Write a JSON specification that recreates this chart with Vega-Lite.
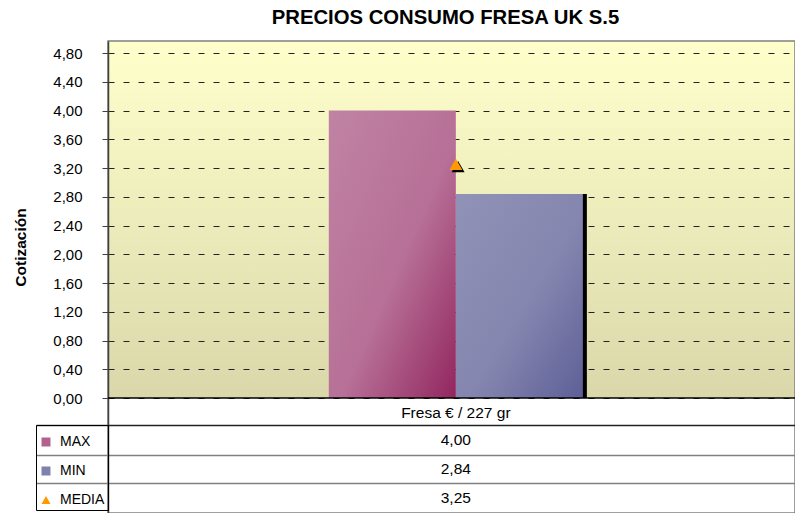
{
  "$schema": "https://vega.github.io/schema/vega-lite/v6.json",
  "width": 687,
  "height": 472,
  "autosize": {"type": "none"},
  "padding": {"left": 108, "top": 41, "right": 0, "bottom": 0},
  "background": "#ffffff",
  "config": {
    "locale": {"number": {"decimal": ",", "thousands": ".", "grouping": [3], "currency": ["", " €"]}},
    "font": "Liberation Sans"
  },
  "title": {
    "text": "PRECIOS CONSUMO FRESA  UK S.5",
    "font": "Liberation Sans",
    "fontSize": 20.3,
    "fontWeight": "bold",
    "color": "#000000",
    "anchor": "middle",
    "baseline": "alphabetic",
    "offset": -3,
    "dx": -6
  },
  "view": {
    "fill": {
      "gradient": "linear",
      "x1": 0, "y1": 0, "x2": 0, "y2": 1,
      "stops": [
        {"offset": 0, "color": "#FFFFCC"},
        {"offset": 0.756, "color": "#DAD8AA"},
        {"offset": 0.7565, "color": "#FFFFFF"},
        {"offset": 1, "color": "#FFFFFF"}
      ]
    },
    "stroke": "#808080",
    "strokeWidth": 1.5
  },
  "data": {
    "values": [
      {"producto": "Fresa €  / 227 gr", "serie": "MAX", "valor": 4.00},
      {"producto": "Fresa €  / 227 gr", "serie": "MIN", "valor": 2.84},
      {"producto": "Fresa €  / 227 gr", "serie": "MEDIA", "valor": 3.25}
    ]
  },
  "layer": [
    {
      "transform": [{"filter": "datum.serie === 'MIN'"}],
      "mark": {"type": "rule", "color": "#000000", "strokeWidth": 8},
      "encoding": {
        "x": {
          "field": "producto", "type": "nominal", "bandPosition": 1,
          "scale": {"paddingInner": 0, "paddingOuter": 0.852, "align": 0.51},
          "axis": {
            "orient": "bottom", "offset": -115, "domain": false, "ticks": false, "tickSize": 0,
            "labelPadding": 7, "labelFontSize": 15.5, "labelFont": "Liberation Sans", "labelColor": "#000000",
            "labelAngle": 0, "labelBaseline": "top", "title": null, "grid": false
          }
        },
        "y": {
          "field": "valor", "type": "quantitative",
          "scale": {"domain": [-1.6, 4.967], "nice": false, "zero": false},
          "axis": {
            "values": [-1.183, -0.793, -0.3757, 0, 0.4, 0.8, 1.2, 1.6, 2, 2.4, 2.8, 3.2, 3.6, 4, 4.4, 4.8],
            "tickCount": 40,
            "labelOverlap": false,
            "format": ".2f",
            "labelExpr": "datum.value < 0 ? '' : datum.label",
            "title": "Cotización",
            "titleFont": "Liberation Sans", "titleFontSize": 15.5, "titleFontWeight": "bold", "titleColor": "#000000",
            "titleX": -88, "titleY": 206, "titleAngle": -90, "titleBaseline": "middle", "titleAlign": "center",
            "labelFont": "Liberation Sans", "labelFontSize": 15, "labelColor": "#000000", "labelPadding": 20,
            "tickSize": {"condition": {"test": "datum.value < 0", "value": 72}, "value": 6},
            "tickColor": {"condition": {"test": "datum.value < -0.5", "value": "#808080"}, "value": "#404040"},
            "tickWidth": {"condition": {"test": "datum.value < 0", "value": 1.5}, "value": 1},
            "domain": true, "domainColor": "#404040", "domainWidth": 1.5,
            "grid": true,
            "gridDash": {"condition": {"test": "datum.value < 0", "value": []}, "value": [6, 9]},
            "gridColor": {"condition": {"test": "datum.value < -0.5", "value": "#808080"}, "value": "#222222"},
            "gridWidth": {"condition": {"test": "datum.value < 0", "value": 1.5}, "value": 1}
          }
        },
        "y2": {"datum": 0}
      }
    },
    {
      "transform": [{"filter": "datum.serie === 'MIN'"}],
      "mark": {
        "type": "bar",
        "color": {
          "gradient": "linear", "x1": 0, "y1": 0, "x2": 1, "y2": 1,
          "stops": [
            {"offset": 0, "color": "#9092B7"},
            {"offset": 0.55, "color": "#8586AF"},
            {"offset": 1, "color": "#5E5F97"}
          ]
        }
      },
      "encoding": {
        "x": {"field": "producto", "type": "nominal"},
        "xOffset": {"field": "serie", "type": "nominal", "scale": {"domain": ["MAX", "MIN"], "paddingInner": 0, "paddingOuter": 0}},
        "y": {"field": "valor", "type": "quantitative"}
      }
    },
    {
      "transform": [{"filter": "datum.serie === 'MAX'"}],
      "mark": {
        "type": "bar",
        "color": {
          "gradient": "linear", "x1": 0, "y1": 0, "x2": 1, "y2": 1,
          "stops": [
            {"offset": 0, "color": "#C083A4"},
            {"offset": 0.55, "color": "#B77097"},
            {"offset": 1, "color": "#92265F"}
          ]
        }
      },
      "encoding": {
        "x": {"field": "producto", "type": "nominal"},
        "xOffset": {"field": "serie", "type": "nominal"},
        "y": {"field": "valor", "type": "quantitative"}
      }
    },
    {
      "transform": [{"filter": "datum.serie === 'MAX'"}],
      "mark": {"type": "rule", "color": "#000000", "strokeWidth": 1.5},
      "encoding": {"y": {"datum": 0, "type": "quantitative"}}
    },
    {
      "transform": [{"filter": "datum.serie === 'MEDIA'"}],
      "mark": {"type": "point", "filled": true, "color": "#000000", "opacity": 1, "size": 169, "shape": "M0.35,-0.516L-0.65,1.216L1.35,1.216Z"},
      "encoding": {
        "x": {"field": "producto", "type": "nominal"},
        "y": {"field": "valor", "type": "quantitative"}
      }
    },
    {
      "transform": [{"filter": "datum.serie === 'MEDIA'"}],
      "mark": {"type": "point", "filled": true, "opacity": 1, "size": 169},
      "encoding": {
        "x": {"field": "producto", "type": "nominal"},
        "y": {"field": "valor", "type": "quantitative"},
        "color": {
          "field": "serie", "type": "nominal",
          "scale": {"domain": ["MAX", "MIN", "MEDIA"], "range": ["#B36290", "#8082AE", "#FF9900"]},
          "legend": {
            "orient": "none", "direction": "vertical", "legendX": -72, "legendY": 384,
            "title": " ", "titleFontSize": 1, "titlePadding": 6,
            "padding": 3, "strokeColor": "#000000",
            "symbolSize": 81, "symbolStrokeWidth": 0,
            "labelFontSize": 14, "labelFont": "Liberation Sans", "labelColor": "#000000",
            "labelOffset": 7, "rowPadding": 15
          }
        },
        "shape": {
          "field": "serie", "type": "nominal",
          "scale": {"domain": ["MAX", "MIN", "MEDIA"], "range": ["square", "square", "triangle-up"]},
          "legend": {
            "orient": "none", "direction": "vertical", "legendX": -72, "legendY": 384,
            "title": " ", "titleFontSize": 1, "titlePadding": 6,
            "padding": 3, "strokeColor": "#000000",
            "symbolSize": 81, "symbolStrokeWidth": 0,
            "labelFontSize": 14, "labelFont": "Liberation Sans", "labelColor": "#000000",
            "labelOffset": 7, "rowPadding": 15
          }
        }
      }
    },
    {
      "transform": [{"filter": "datum.serie === 'MAX'"}],
      "mark": {"type": "text", "fontSize": 15.5, "font": "Liberation Sans", "color": "#000000", "baseline": "middle", "align": "center"},
      "encoding": {
        "x": {"field": "producto", "type": "nominal"},
        "y": {"datum": -0.584, "type": "quantitative"},
        "text": {"field": "valor", "type": "quantitative", "format": ".2f"}
      }
    },
    {
      "transform": [{"filter": "datum.serie === 'MIN'"}],
      "mark": {"type": "text", "fontSize": 15.5, "font": "Liberation Sans", "color": "#000000", "baseline": "middle", "align": "center"},
      "encoding": {
        "x": {"field": "producto", "type": "nominal"},
        "y": {"datum": -0.988, "type": "quantitative"},
        "text": {"field": "valor", "type": "quantitative", "format": ".2f"}
      }
    },
    {
      "transform": [{"filter": "datum.serie === 'MEDIA'"}],
      "mark": {"type": "text", "fontSize": 15.5, "font": "Liberation Sans", "color": "#000000", "baseline": "middle", "align": "center"},
      "encoding": {
        "x": {"field": "producto", "type": "nominal"},
        "y": {"datum": -1.391, "type": "quantitative"},
        "text": {"field": "valor", "type": "quantitative", "format": ".2f"}
      }
    }
  ]
}
